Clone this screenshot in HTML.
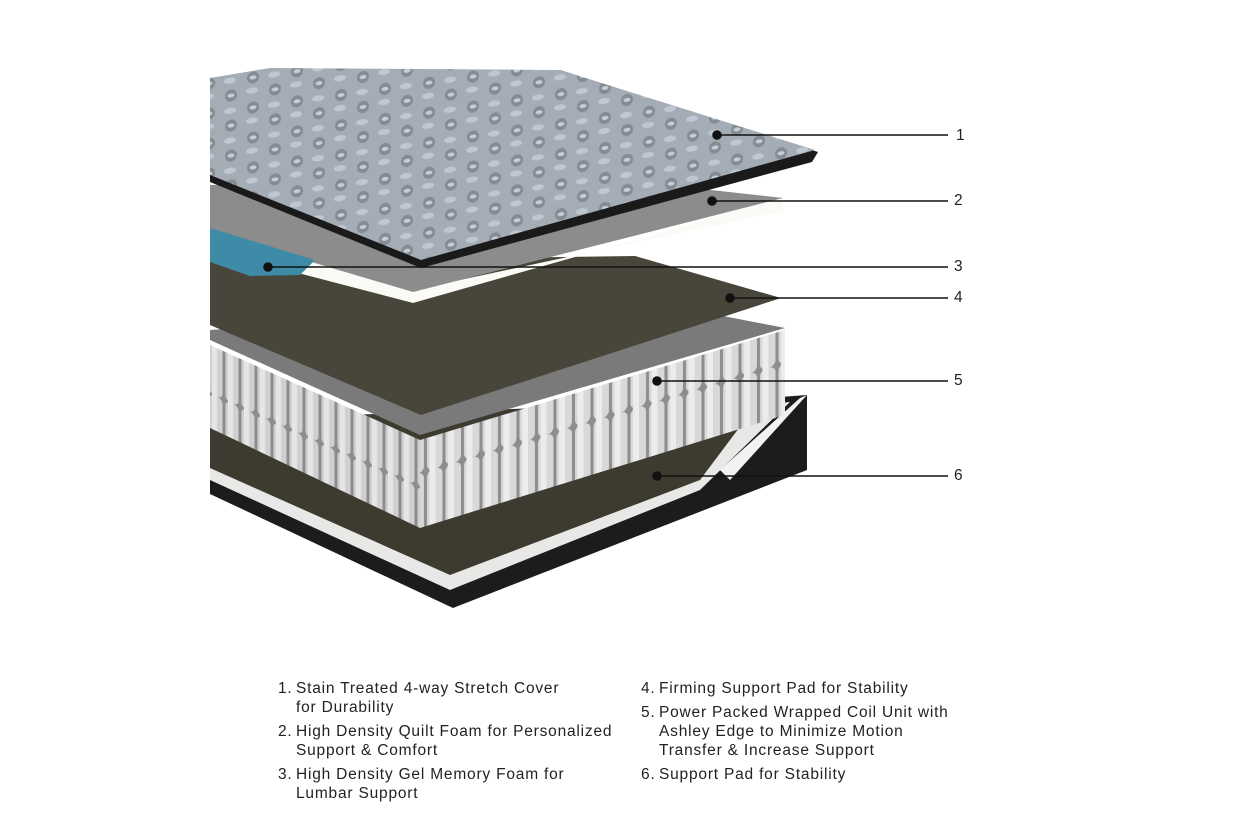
<!DOCTYPE html>
<html><head><meta charset="utf-8"><style>
body{margin:0;background:#fff;width:1260px;height:840px;overflow:hidden;font-family:"Liberation Sans",sans-serif;}
svg{position:absolute;left:0;top:0}
.t{position:absolute;font-size:15.5px;color:#222;line-height:19px;letter-spacing:0.8px;white-space:nowrap}
.n{position:absolute;font-size:15.5px;color:#222}
</style></head><body>
<svg width="1260" height="840" viewBox="0 0 1260 840">
<defs>
<pattern id="quilt" width="44" height="30" patternUnits="userSpaceOnUse" patternTransform="skewY(-8)">
<rect width="44" height="30" fill="#a4acb6"/>
<circle cx="11" cy="8" r="6" fill="#858b93"/><circle cx="33" cy="23" r="6" fill="#858b93"/>
<ellipse cx="11" cy="8" rx="3.5" ry="2" fill="#c5cdd6"/><ellipse cx="33" cy="23" rx="3.5" ry="2" fill="#c5cdd6"/>
<ellipse cx="32" cy="6" rx="6" ry="3" fill="#bfc8d2"/><ellipse cx="10" cy="23" rx="6" ry="3" fill="#bfc8d2"/>
</pattern>
<pattern id="coilR" width="18.5" height="100" patternUnits="userSpaceOnUse" patternTransform="skewY(-16.8)">
<rect width="18.5" height="100" fill="#8d8d8d"/>
<rect x="1.5" y="0" width="15.5" height="100" rx="6" fill="#d8d8d8"/>
<rect x="4" y="0" width="6" height="100" fill="#ececec"/>
</pattern>
<pattern id="coilL" width="16" height="100" patternUnits="userSpaceOnUse" patternTransform="skewY(24)">
<rect width="16" height="100" fill="#8d8d8d"/>
<rect x="1.5" y="0" width="13" height="100" rx="5" fill="#d0d0d0"/>
<rect x="4" y="0" width="5" height="100" fill="#e6e6e6"/>
</pattern>
</defs>
<polygon points="210,440 807,395 807,470 453,608 210,494" fill="#1c1c1c"/>
<polygon points="210,455 790,402 700,490 450,590 210,480" fill="#e8e8e6"/>
<polygon points="210,420 760,400 700,480 450,575 210,468" fill="#3d3a2f"/>
<polygon points="720,470 800,398 807,395 730,480" fill="#f2f2f2"/>
<polygon points="210,330 640,300 785,328 420,435 210,340" fill="#7a7a7a"/>
<polygon points="420,440 785,330 785,415 420,528" fill="url(#coilR)"/>
<polygon points="210,345 420,440 420,528 210,428" fill="url(#coilL)"/>
<polygon points="210,262 635,256 781,298 421,415 210,325" fill="#48453a"/>
<polygon points="210,232 300,245 413,290 783,211 783,198 413,303 210,250" fill="#fafaf7"/>
<polygon points="210,185 620,180 783,198 413,292 210,232" fill="#8c8c8c"/>
<polygon points="210,228 315,260 300,275 250,276 210,262" fill="#3e8ba8"/>
<polygon points="210,80 270,70 560,70 818,152 812,162 421,268 210,182" fill="#1a1a1a"/>
<polygon points="210,78 270,68 560,70 815,150 421,260 210,175" fill="url(#quilt)"/>
<g stroke="#111" stroke-width="1.6" fill="#111">
<line x1="717" y1="135" x2="948" y2="135"/><circle cx="717" cy="135" r="4"/>
<line x1="712" y1="201" x2="948" y2="201"/><circle cx="712" cy="201" r="4"/>
<line x1="268" y1="267" x2="948" y2="267"/><circle cx="268" cy="267" r="4"/>
<line x1="730" y1="298" x2="948" y2="298"/><circle cx="730" cy="298" r="4"/>
<line x1="657" y1="381" x2="948" y2="381"/><circle cx="657" cy="381" r="4"/>
<line x1="657" y1="476" x2="948" y2="476"/><circle cx="657" cy="476" r="4"/>
</g>
</svg>
<div class="n" style="left:956px;top:127px">1</div>
<div class="n" style="left:954px;top:192px">2</div>
<div class="n" style="left:954px;top:258px">3</div>
<div class="n" style="left:954px;top:289px">4</div>
<div class="n" style="left:954px;top:372px">5</div>
<div class="n" style="left:954px;top:467px">6</div>
<div class="t" style="left:278px;top:679px">1.</div>
<div class="t" style="left:296px;top:679px">Stain Treated 4-way Stretch Cover<br>for Durability</div>
<div class="t" style="left:278px;top:722px">2.</div>
<div class="t" style="left:296px;top:722px">High Density Quilt Foam for Personalized<br>Support &amp; Comfort</div>
<div class="t" style="left:278px;top:765px">3.</div>
<div class="t" style="left:296px;top:765px">High Density Gel Memory Foam for<br>Lumbar Support</div>
<div class="t" style="left:641px;top:679px">4.</div>
<div class="t" style="left:659px;top:679px">Firming Support Pad for Stability</div>
<div class="t" style="left:641px;top:703px">5.</div>
<div class="t" style="left:659px;top:703px">Power Packed Wrapped Coil Unit with<br>Ashley Edge to Minimize Motion<br>Transfer &amp; Increase Support</div>
<div class="t" style="left:641px;top:765px">6.</div>
<div class="t" style="left:659px;top:765px">Support Pad for Stability</div>
</body></html>
